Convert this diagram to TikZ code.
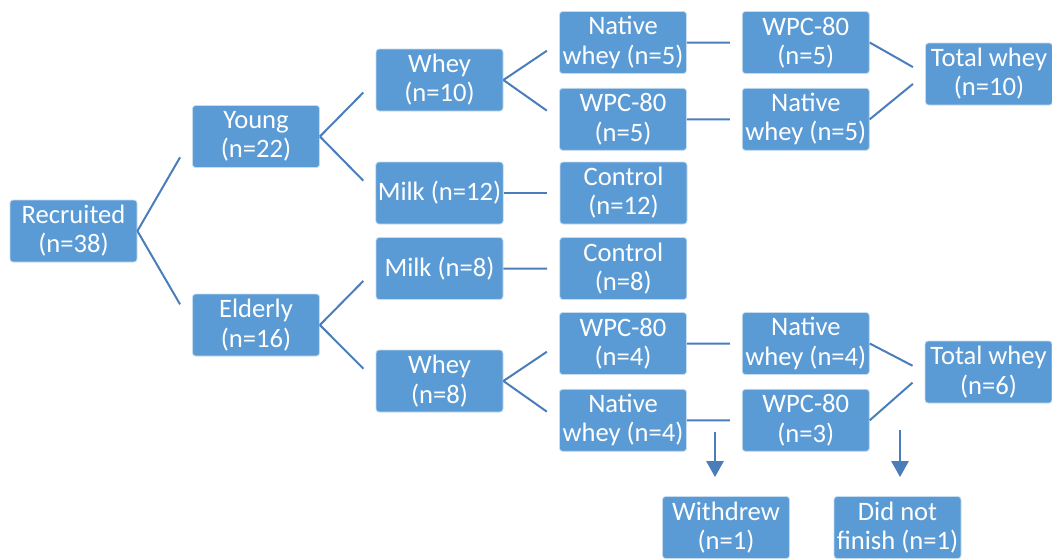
\documentclass[tikz,border=0pt]{standalone}
\usepackage{fontspec}
\setmainfont{Carlito}
\usetikzlibrary{positioning,calc,arrows.meta}
\definecolor{boxblue}{HTML}{5B9BD5}
\definecolor{lineblue}{HTML}{4A7EBB}
\tikzset{
  grp/.style={rectangle,draw=white!65!boxblue,line width=0.4pt,fill=boxblue,rounded corners=1.5pt,
    align=center,text=white,minimum width=63.5pt,minimum height=31pt,inner sep=1pt,
    font=\fontsize{13.3}{14.6}\selectfont},
  link/.style={draw=lineblue,line width=1pt},
  drop/.style={-{Triangle[length=8pt,width=8.5pt]},draw=lineblue,fill=lineblue,line width=1.3pt,
    shorten >=9.5pt},
}
\begin{document}
\begin{tikzpicture}[x=0.5pt,y=-0.5pt]
  \useasboundingbox (0,0) rectangle (1052,558);
  % first split
  \node[grp] (rec) at (73.5,231) {Recruited\\(n=38)};
  \node[grp] (young) at (256,136.5) {Young\\(n=22)};
  \node[grp] (old) at (256,325) {Elderly\\(n=16)};
  % young arm
  \node[grp] (ywhey) at (439.5,80) {Whey\\(n=10)};
  \node[grp] (ymilk) at (439.5,193) {Milk (n=12)};
  \node[grp,right=28pt of ymilk] (yctrl) {Control\\(n=12)};
  \node[grp] (ynat) at (623,42.5) {Native\\whey (n=5)};
  \node[grp,below=7pt of ynat] (ywpc) {WPC-80\\(n=5)};
  \node[grp,right=27.5pt of ynat] (ywpc2) {WPC-80\\(n=5)};
  \node[grp,right=27.5pt of ywpc] (ynat2) {Native\\whey (n=5)};
  \node[grp] (ytot) at (989,74) {Total whey\\(n=10)};
  % elderly arm
  \node[grp] (omilk) at (439.5,268.5) {Milk (n=8)};
  \node[grp,right=28pt of omilk] (octrl) {Control\\(n=8)};
  \node[grp] (owhey) at (439.5,381) {Whey\\(n=8)};
  \node[grp] (owpc) at (623,343.5) {WPC-80\\(n=4)};
  \node[grp,below=7pt of owpc] (onat) {Native\\whey (n=4)};
  \node[grp,right=27.5pt of owpc] (onat2) {Native\\whey (n=4)};
  \node[grp,right=27.5pt of onat] (owpc2) {WPC-80\\(n=3)};
  \node[grp] (otot) at (988.5,372) {Total whey\\(n=6)};
  % drop-outs
  \node[grp] (wdr) at (726,527.5) {Withdrew\\(n=1)};
  \node[grp] (dnf) at (897.5,527.5) {Did not\\finish (n=1)};
  \coordinate (wdtop) at (715,432);
  \coordinate (dnftop) at (900,430);
  % connectors
  \foreach \a/\b in {rec/young,rec/old,young/ywhey,young/ymilk,ywhey/ynat,ywhey/ywpc,
      ymilk/yctrl,ynat/ywpc2,ywpc/ynat2,ywpc2/ytot,ynat2/ytot,old/omilk,old/owhey,
      omilk/octrl,owhey/owpc,owhey/onat,owpc/onat2,onat/owpc2,onat2/otot,owpc2/otot}
    \draw[link] (\a.east) -- ($(\a.east)!.78!(\b.west)$);
  \draw[drop] (wdtop) -- (wdtop |- wdr.north);
  \draw[drop] (dnftop) -- (dnftop |- dnf.north);
\end{tikzpicture}
\end{document}
